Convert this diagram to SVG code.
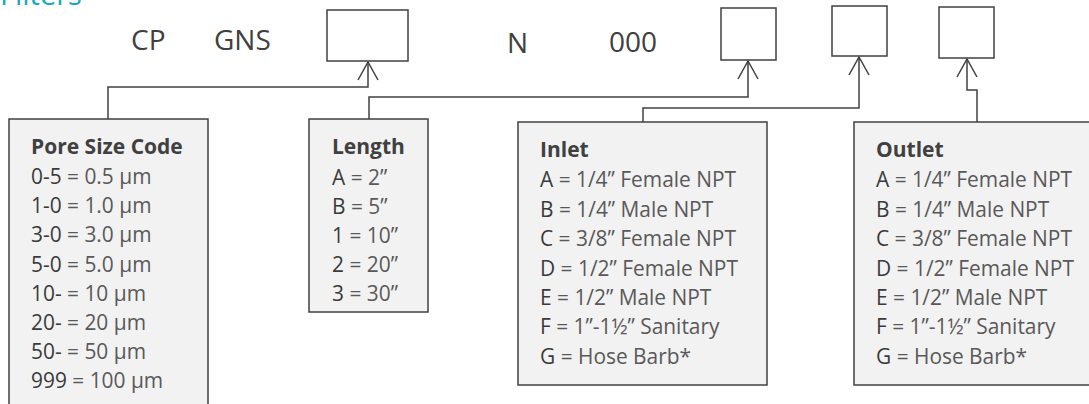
<svg xmlns="http://www.w3.org/2000/svg" width="1089" height="404" viewBox="0 0 1089 404">
<defs>
<marker id="arr" markerUnits="userSpaceOnUse" markerWidth="24" markerHeight="24" viewBox="-20 -12 22 24" refX="0" refY="0" orient="auto" overflow="visible">
<path d="M-18,-10 L0,0 L-18,10" fill="none" stroke="#404040" stroke-width="1.5"/>
</marker>
</defs>
<style>
.slot{fill:#fff;stroke:#404040;stroke-width:1.5}
.box{fill:#f2f2f2;stroke:#404040;stroke-width:1.5}
.con{fill:none;stroke:#404040;stroke-width:1.5;marker-end:url(#arr)}
.top{font-family:"Open Sans","Liberation Sans",sans-serif;font-size:28px;fill:#404040}
.ttl{font-family:"Open Sans","Liberation Sans",sans-serif;font-size:21px;font-weight:bold;fill:#404040}
.ln{font-family:"Open Sans","Liberation Sans",sans-serif;font-size:20.9px;fill:#595959}
.cd{fill:#3a3a3a}
</style>
<rect width="1089" height="404" fill="#fff"/>
<text x="0" y="5" font-family="Open Sans, Liberation Sans, sans-serif" font-size="29" fill="#17a9bd">Filters</text>
<g id="code">
<text class="top" x="131" y="50">CP</text>
<text class="top" x="214" y="50">GNS</text>
<text class="top" x="507" y="52.5">N</text>
<text class="top" x="609" y="51.5">000</text>
</g>
<g id="slot-length"><rect class="slot" x="327" y="10" width="81" height="51"/></g>
<g id="slot-inlet-a"><rect class="slot" x="721" y="8" width="55" height="52"/></g>
<g id="slot-inlet-b"><rect class="slot" x="832" y="6" width="55" height="50"/></g>
<g id="slot-outlet"><rect class="slot" x="939" y="7" width="55" height="51"/></g>
<g id="connectors">
<path class="con" d="M108,119 V87 H368 V62"/>
<path class="con" d="M369,119 V97 H748 V61"/>
<path class="con" d="M643,122 V108 H859 V57"/>
<path class="con" d="M977,122 V90 H967 V59"/>
</g>
<g id="pore">
<rect class="box" x="9" y="119" width="199" height="310"/>
<text class="ttl" x="31" y="154">Pore Size Code</text>
<text class="ln" x="31" y="184"><tspan class="cd">0-5</tspan> = 0.5 µm</text>
<text class="ln" x="31" y="213.2"><tspan class="cd">1-0</tspan> = 1.0 µm</text>
<text class="ln" x="31" y="242.4"><tspan class="cd">3-0</tspan> = 3.0 µm</text>
<text class="ln" x="31" y="271.6"><tspan class="cd">5-0</tspan> = 5.0 µm</text>
<text class="ln" x="31" y="300.8"><tspan class="cd">10-</tspan> = 10 µm</text>
<text class="ln" x="31" y="330"><tspan class="cd">20-</tspan> = 20 µm</text>
<text class="ln" x="31" y="359.2"><tspan class="cd">50-</tspan> = 50 µm</text>
<text class="ln" x="31" y="388.4"><tspan class="cd">999</tspan> = 100 µm</text>
</g>
<g id="length">
<rect class="box" x="309" y="119" width="119" height="193"/>
<text class="ttl" x="332" y="154">Length</text>
<text class="ln" x="332" y="185"><tspan class="cd">A</tspan> = 2”</text>
<text class="ln" x="332" y="214"><tspan class="cd">B</tspan> = 5”</text>
<text class="ln" x="332" y="243"><tspan class="cd">1</tspan> = 10”</text>
<text class="ln" x="332" y="272"><tspan class="cd">2</tspan> = 20”</text>
<text class="ln" x="332" y="301"><tspan class="cd">3</tspan> = 30”</text>
</g>
<g id="inlet">
<rect class="box" x="518" y="122" width="249" height="263"/>
<text class="ttl" x="540" y="157">Inlet</text>
<text class="ln" x="540" y="187.3"><tspan class="cd">A</tspan> = 1/4” Female NPT</text>
<text class="ln" x="540" y="216.7"><tspan class="cd">B</tspan> = 1/4” Male NPT</text>
<text class="ln" x="540" y="246.1"><tspan class="cd">C</tspan> = 3/8” Female NPT</text>
<text class="ln" x="540" y="275.5"><tspan class="cd">D</tspan> = 1/2” Female NPT</text>
<text class="ln" x="540" y="304.9"><tspan class="cd">E</tspan> = 1/2” Male NPT</text>
<text class="ln" x="540" y="334.3"><tspan class="cd">F</tspan> = 1”-1½” Sanitary</text>
<text class="ln" x="540" y="363.7"><tspan class="cd">G</tspan> = Hose Barb*</text>
</g>
<g id="outlet">
<rect class="box" x="854" y="122" width="250" height="263"/>
<text class="ttl" x="876" y="157">Outlet</text>
<text class="ln" x="876" y="187.3"><tspan class="cd">A</tspan> = 1/4” Female NPT</text>
<text class="ln" x="876" y="216.7"><tspan class="cd">B</tspan> = 1/4” Male NPT</text>
<text class="ln" x="876" y="246.1"><tspan class="cd">C</tspan> = 3/8” Female NPT</text>
<text class="ln" x="876" y="275.5"><tspan class="cd">D</tspan> = 1/2” Female NPT</text>
<text class="ln" x="876" y="304.9"><tspan class="cd">E</tspan> = 1/2” Male NPT</text>
<text class="ln" x="876" y="334.3"><tspan class="cd">F</tspan> = 1”-1½” Sanitary</text>
<text class="ln" x="876" y="363.7"><tspan class="cd">G</tspan> = Hose Barb*</text>
</g>
</svg>
